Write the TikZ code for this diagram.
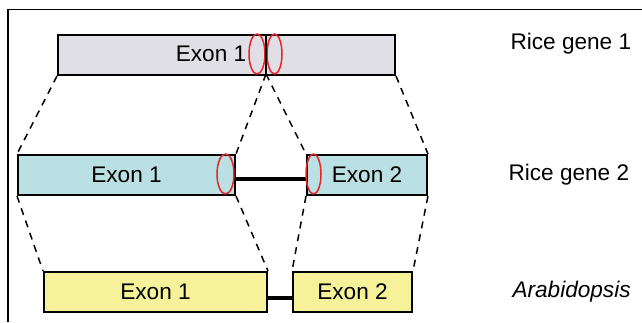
\documentclass[tikz,border=0pt]{standalone}
\usepackage{fontspec}
\setmainfont{Liberation Sans}
\usetikzlibrary{shapes.geometric}
\definecolor{exongray}{RGB}{224,223,229}
\definecolor{exonblue}{RGB}{187,224,227}
\definecolor{exonyellow}{RGB}{246,242,154}
\definecolor{markred}{RGB}{230,35,40}

\begin{document}
\begin{tikzpicture}[x=1pt,y=-1pt,font=\fontsize{22.6}{26}\selectfont]
	\tikzstyle{exon}=[draw=black,line width=2pt,minimum height=40pt,inner sep=0pt,anchor=north west]
	\tikzstyle{splice}=[ellipse,draw=markred,line width=1.5pt,minimum height=40pt,inner sep=0pt]
	\tikzstyle{intron}=[line width=4pt]
	\tikzstyle{map}=[line width=1.5pt,dash pattern=on 7pt off 6pt]
	\tikzstyle{annot}=[anchor=west]

	\useasboundingbox (0,0) rectangle (642,322);
	\draw[line width=1.5pt] (8,322) -- (8,9.5) -- (642,9.5);

	% Rice gene 1: one exon
	\node[exon,fill=exongray,minimum width=337pt] (r1) at (57,34) {};
	\node (r1t) at (211,54) {Exon 1};
	\coordinate (split) at (266,74);
	\node[splice,minimum width=16pt] (s1) at (257,54) {};
	\node[splice,minimum width=15pt] (s2) at (274.5,54) {};
	\draw[line width=1.5pt] (split |- r1.north) -- (split);

	% Rice gene 2: two exons
	\node[exon,fill=exonblue,minimum width=217pt] (r2a) at (17,154) {Exon 1};
	\node[exon,fill=exonblue,minimum width=120pt] (r2b) at (306,154) {Exon 2};
	\draw[intron] ([yshift=-4pt]r2a.east) -- ([yshift=-4pt]r2b.west);
	\node[splice,minimum width=17pt] (s3) at (225.5,174) {};
	\node[splice,minimum width=15pt] (s4) at (313.5,174) {};

	% Arabidopsis: two exons
	\node[exon,fill=exonyellow,minimum width=223pt] (a1) at (43,271) {Exon 1};
	\node[exon,fill=exonyellow,minimum width=119pt] (a2) at (292,271) {Exon 2};
	\draw[intron] ([yshift=-6pt]a1.east) -- ([yshift=-6pt]a2.west);

	% Map the exons between the genes
	\draw[map] (r1.south west) -- (r2a.north west);
	\draw[map] (split) -- (r2a.north east);
	\draw[map] (split) -- (r2b.north west);
	\draw[map] (r1.south east) -- (r2b.north east);
	\draw[map] (r2a.south west) -- (a1.north west);
	\draw[map] (r2a.south east) -- (a1.north east);
	\draw[map] (r2b.south west) -- (a2.north west);
	\draw[map] (r2b.south east) -- (a2.north east);

	% Annotate the genes
	\node[annot] (g1) at (507,44) {Rice gene 1};
	\node[annot] (g2) at (505,175) {Rice gene 2};
	\node[annot] (g3) at (509,292) {\textit{Arabidopsis}};
\end{tikzpicture}
\end{document}
